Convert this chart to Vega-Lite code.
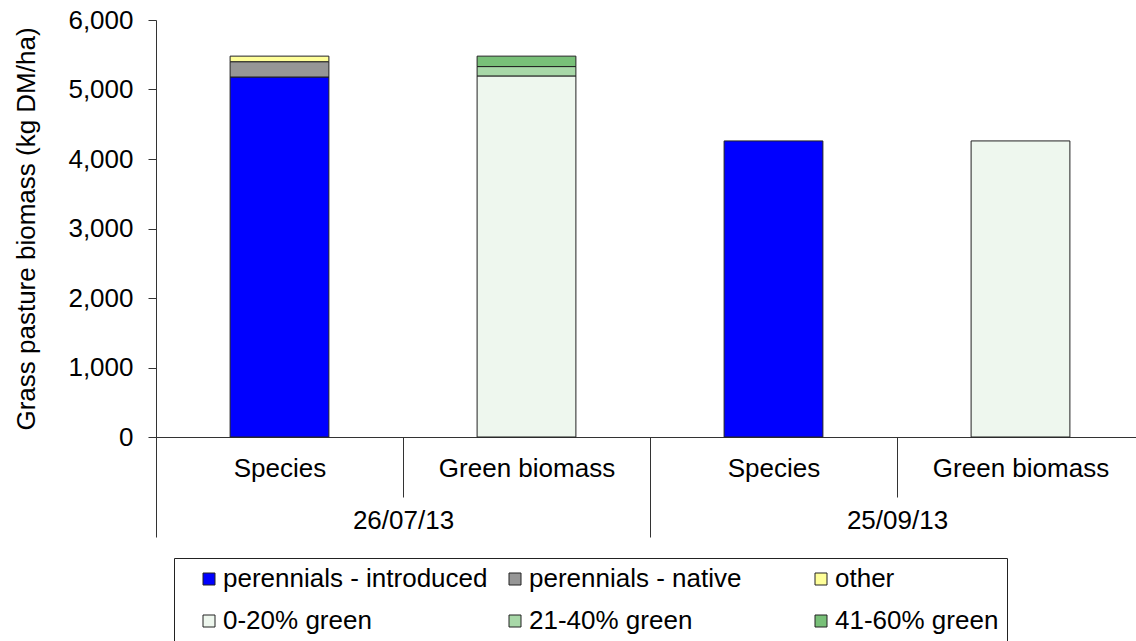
{
  "$schema": "https://vega.github.io/schema/vega-lite/v6.json",
  "width": 988,
  "height": 417,
  "padding": {"left": 13, "top": 7, "right": 0, "bottom": 0},
  "background": "#ffffff",
  "config": {
    "font": "Liberation Sans",
    "view": {"stroke": null},
    "axis": {
      "labelFont": "Liberation Sans",
      "titleFont": "Liberation Sans",
      "labelColor": "#000000",
      "titleColor": "#000000",
      "domainColor": "#333333",
      "tickColor": "#333333",
      "titleFontWeight": "normal",
      "grid": false
    }
  },
  "data": {
    "values": [
      {"date": "26/07/13", "type": "Species", "key": "26/07/13|Species", "component": "perennials - introduced", "order": 1, "value": 5180},
      {"date": "26/07/13", "type": "Species", "key": "26/07/13|Species", "component": "perennials - native", "order": 2, "value": 220},
      {"date": "26/07/13", "type": "Species", "key": "26/07/13|Species", "component": "other", "order": 3, "value": 80},
      {"date": "26/07/13", "type": "Green biomass", "key": "26/07/13|Green biomass", "component": "0-20% green", "order": 4, "value": 5195},
      {"date": "26/07/13", "type": "Green biomass", "key": "26/07/13|Green biomass", "component": "21-40% green", "order": 5, "value": 135},
      {"date": "26/07/13", "type": "Green biomass", "key": "26/07/13|Green biomass", "component": "41-60% green", "order": 6, "value": 150},
      {"date": "25/09/13", "type": "Species", "key": "25/09/13|Species", "component": "perennials - introduced", "order": 1, "value": 4260},
      {"date": "25/09/13", "type": "Green biomass", "key": "25/09/13|Green biomass", "component": "0-20% green", "order": 4, "value": 4260}
    ]
  },
  "layer": [
    {
      "mark": {"type": "bar", "stroke": "#222222", "strokeWidth": 1, "width": {"band": 0.4}},
      "encoding": {
        "x": {
          "field": "key",
          "type": "nominal",
          "sort": null,
          "scale": {"paddingInner": 0, "paddingOuter": 0},
          "axis": {
            "orient": "bottom",
            "title": null,
            "labelExpr": "split(datum.value, '|')[1]",
            "labelAngle": 0,
            "labelFontSize": 26,
            "tickBand": "extent",
            "tickSize": 60,
            "labelPadding": -42,
            "labelBaseline": "top"
          }
        },
        "y": {
          "field": "value",
          "type": "quantitative",
          "stack": "zero",
          "scale": {"domain": [0, 6000], "nice": false},
          "axis": {
            "title": "Grass pasture biomass (kg DM/ha)",
            "values": [0, 1000, 2000, 3000, 4000, 5000, 6000],
            "format": ",d",
            "tickSize": 8,
            "labelPadding": 15,
            "titlePadding": 28,
            "labelFontSize": 26,
            "titleFontSize": 26
          }
        },
        "color": {
          "field": "component",
          "type": "nominal",
          "scale": {
            "domain": ["perennials - introduced", "perennials - native", "other", "0-20% green", "21-40% green", "41-60% green"],
            "range": ["#0000ff", "#969696", "#ffff99", "#eef7ee", "#a8d8a8", "#78c078"]
          },
          "legend": {
            "orient": "none",
            "legendX": 18,
            "legendY": 538,
            "direction": "horizontal",
            "columns": 3,
            "gridAlign": "all",
            "title": null,
            "symbolType": "square",
            "symbolSize": 144,
            "symbolStrokeColor": "#222222",
            "symbolStrokeWidth": 1,
            "symbolOpacity": 1,
            "labelFontSize": 26,
            "labelFont": "Liberation Sans",
            "labelColor": "#000000",
            "labelLimit": 400,
            "columnPadding": -8,
            "rowPadding": 16,
            "padding": 8,
            "strokeColor": "#222222",
            "fillColor": "#ffffff",
            "symbolOffset": 14,
            "labelOffset": 1
          }
        },
        "order": {"field": "order", "type": "quantitative"}
      }
    },
    {
      "mark": {"type": "point", "opacity": 0},
      "encoding": {
        "x": {
          "field": "date",
          "type": "nominal",
          "sort": null,
          "scale": {"paddingInner": 0, "paddingOuter": 0},
          "axis": {
            "orient": "bottom",
            "title": null,
            "labelAngle": 0,
            "labelFontSize": 26,
            "tickBand": "extent",
            "tickSize": 100,
            "labelPadding": -30,
            "labelBaseline": "top",
            "domain": false
          }
        }
      }
    }
  ],
  "resolve": {"scale": {"x": "independent"}, "axis": {"x": "independent"}}
}
